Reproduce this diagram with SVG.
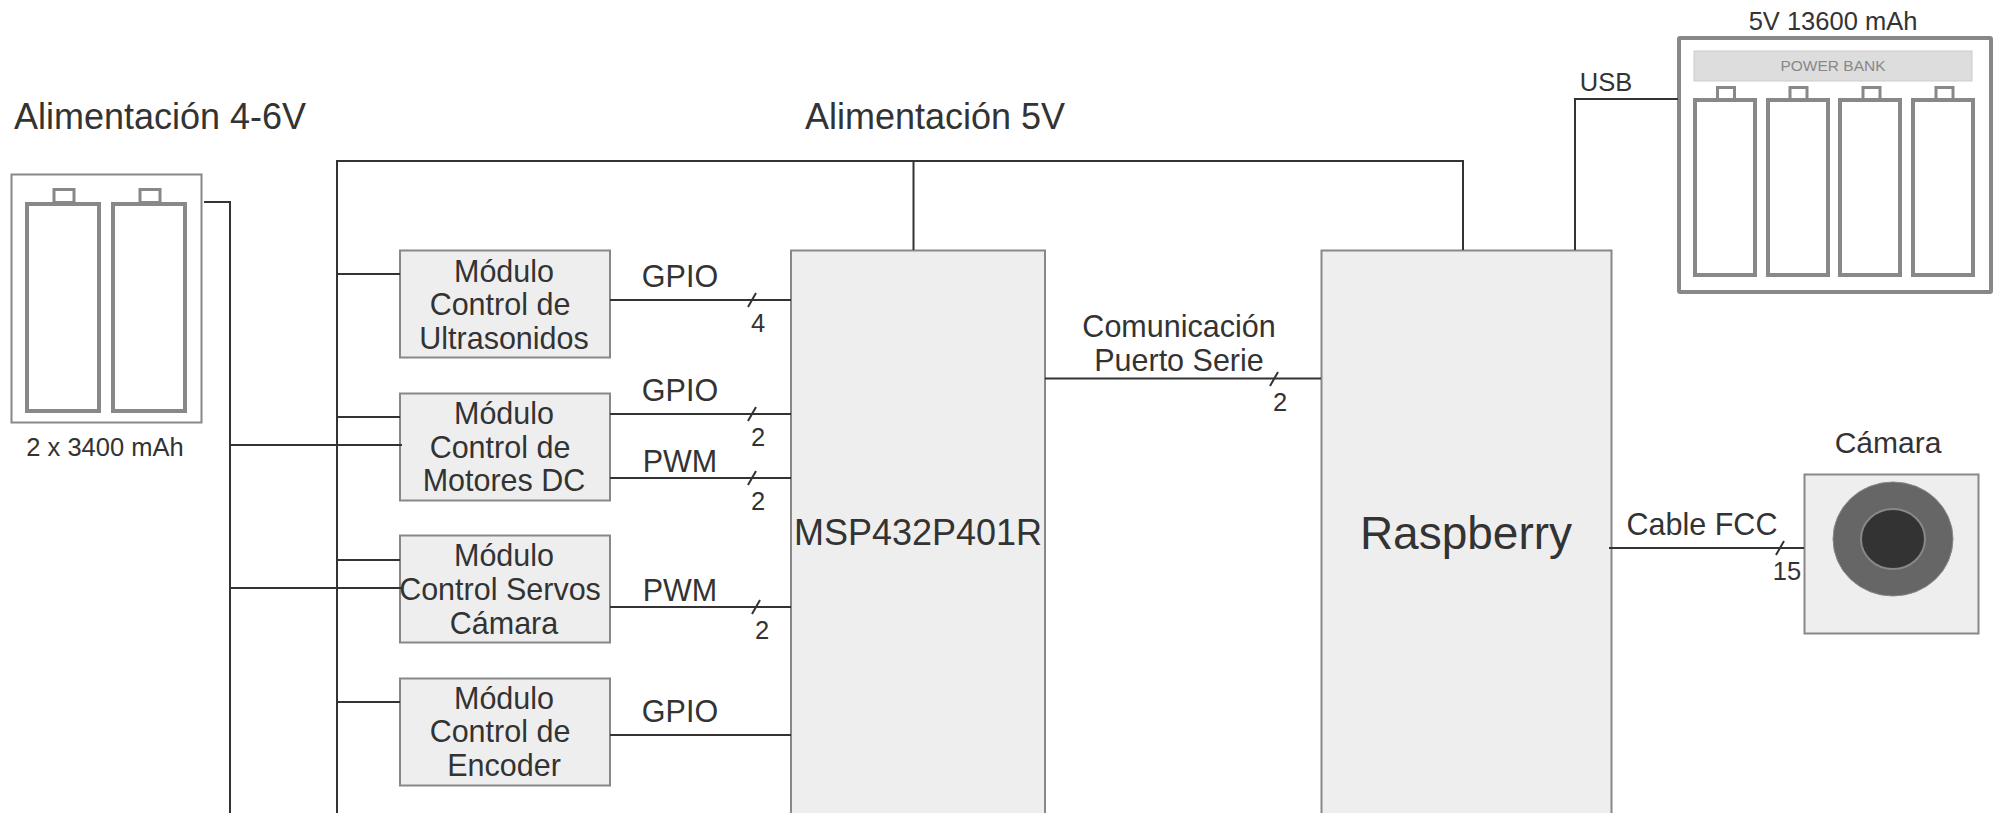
<svg xmlns="http://www.w3.org/2000/svg" width="1999" height="813" viewBox="0 0 1999 813">
<style>
text{font-family:"Liberation Sans",Arial,sans-serif;fill:#333;text-anchor:middle}
.box{fill:#eee;stroke:#888;stroke-width:2}
.bat{fill:#fff;stroke:#888;stroke-width:4}
.cap{fill:#fff;stroke:#888;stroke-width:3}
.w{fill:none;stroke:#333;stroke-width:2}
.m{font-size:30.500px}
.n{font-size:25.500px}
</style>
<rect width="1999" height="813" fill="#fff"/>
<g id="bateria">
<rect x="11.500" y="174.500" width="190" height="248" fill="#fff" stroke="#888" stroke-width="2"/>
<rect class="cap" x="54" y="189.500" width="20" height="13"/><rect class="cap" x="140" y="189.500" width="20" height="13"/>
<rect class="bat" x="27" y="204" width="72" height="207"/><rect class="bat" x="113" y="204" width="72" height="207"/>
<text x="105" y="456" class="n">2 x 3400 mAh</text>
</g>
<g id="titulos">
<text x="160" y="129" font-size="36">Alimentación 4-6V</text>
<text x="935" y="129" font-size="36">Alimentación 5V</text>
</g>
<g id="mod-ultrasonidos"><rect class="box" x="400" y="250.500" width="210" height="107"/><text class="m" x="504" y="282">Módulo</text><text class="m" x="500" y="315">Control de</text><text class="m" x="504" y="349">Ultrasonidos</text></g>
<g id="mod-motores"><rect class="box" x="400" y="393.500" width="210" height="107"/><text class="m" x="504" y="424">Módulo</text><text class="m" x="500" y="458">Control de</text><text class="m" x="504" y="491">Motores DC</text></g>
<g id="mod-servos"><rect class="box" x="400" y="535.500" width="210" height="107"/><text class="m" x="504" y="566">Módulo</text><text class="m" x="500" y="600">Control Servos</text><text class="m" x="504" y="634">Cámara</text></g>
<g id="mod-encoder"><rect class="box" x="400" y="678.500" width="210" height="107"/><text class="m" x="504" y="709">Módulo</text><text class="m" x="500" y="742">Control de</text><text class="m" x="504" y="776">Encoder</text></g>
<g id="msp"><rect class="box" x="791" y="250.500" width="254" height="570"/><text x="918" y="545" font-size="36">MSP432P401R</text></g>
<g id="raspberry"><rect class="box" x="1321.500" y="250.500" width="290" height="570"/><text x="1466" y="549" font-size="46">Raspberry</text></g>
<g id="etiquetas">
<text class="m" x="680" y="287">GPIO</text><text class="m" x="680" y="401">GPIO</text><text class="m" x="680" y="472">PWM</text><text class="m" x="680" y="601">PWM</text><text class="m" x="680" y="722">GPIO</text>
<text class="n" x="758" y="332">4</text><text class="n" x="758" y="446">2</text><text class="n" x="758" y="510">2</text><text class="n" x="762" y="639">2</text><text class="n" x="1280" y="411">2</text>
<text class="m" x="1179" y="337">Comunicación</text><text class="m" x="1179" y="371">Puerto Serie</text>
<text class="m" x="1702" y="535">Cable FCC</text><text class="n" x="1787" y="580">15</text>
<text class="n" x="1606" y="91">USB</text>
</g>
<g id="powerbank">
<rect x="1679" y="38" width="312" height="254" rx="1" fill="#fff" stroke="#888" stroke-width="4"/>
<rect x="1694" y="51" width="278" height="30" fill="#ddd" stroke="#ccc" stroke-width="1"/>
<text x="1833" y="71" font-size="15.500" style="fill:#888">POWER BANK</text>
<rect class="cap" x="1717.500" y="87.500" width="17" height="12"/><rect class="cap" x="1790" y="87.500" width="17" height="12"/><rect class="cap" x="1863" y="87.500" width="17" height="12"/><rect class="cap" x="1936" y="87.500" width="17" height="12"/>
<rect class="bat" x="1695" y="100" width="60" height="175"/><rect class="bat" x="1768" y="100" width="60" height="175"/><rect class="bat" x="1840" y="100" width="60" height="175"/><rect class="bat" x="1913" y="100" width="60" height="175"/>
<text class="n" x="1833" y="30">5V 13600 mAh</text>
</g>
<g id="camara">
<rect class="box" x="1804.500" y="474.500" width="174" height="159"/>
<ellipse cx="1893" cy="539" rx="60" ry="57" fill="#666" stroke="#888" stroke-width="1"/>
<ellipse cx="1893" cy="539" rx="32" ry="30" fill="#333" stroke="#888" stroke-width="2"/>
<text x="1888" y="453" font-size="30">Cámara</text>
</g>
<g id="connectors">
<path class="w" d="M204 202H230V813M230 445H402M230 588H402"/>
<path class="w" d="M337 813V161H1463V250M913.500 161V250M337 274H400M337 417H400M337 560H400M337 702H400"/>
<path class="w" d="M610 300H791M610 414H791M610 478H791M610 607H791M610 735H791"/>
<path class="w" d="M1045 378.500H1321M1609 548H1804M1678 99H1575V250"/>
<path class="w" d="M748 307L756 293M748 421L756 407M748 485L756 471M752 614L760 600M1270 386L1278 372M1776 555L1784 541"/>
</g>
</svg>
